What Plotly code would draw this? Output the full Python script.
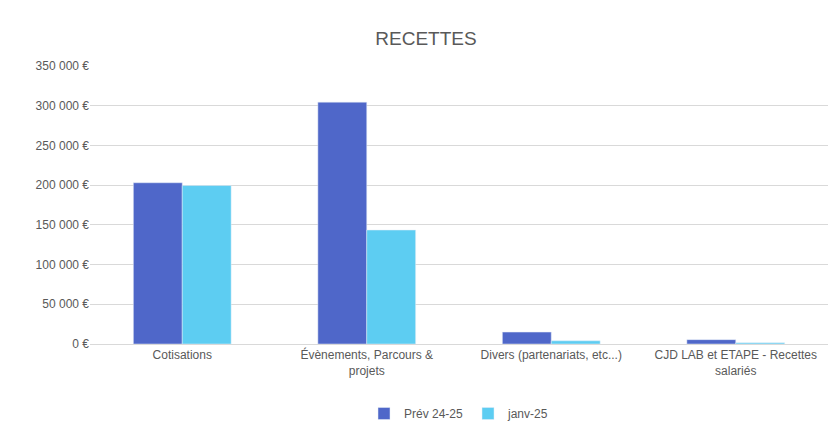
import plotly.graph_objects as go

categories = ["Cotisations", "Évènements, Parcours &<br>projets", "Divers (partenariats, etc...)", "CJD LAB et ETAPE - Recettes<br>salariés"]
prev = [203000, 304500, 15000, 5500]
janv = [199500, 143500, 4000, 1500]
yticks = [0, 50000, 100000, 150000, 200000, 250000, 300000, 350000]
yticklabels = ["0 €", "50 000 €", "100 000 €", "150 000 €", "200 000 €", "250 000 €", "300 000 €", "350 000 €"]

fig = go.Figure()
fig.add_bar(x=categories, y=prev, name="Prév 24-25", marker_color="#4F67C9")
fig.add_bar(x=categories, y=janv, name="janv-25", marker_color="#5DCDF2")
fig.update_layout(
    width=836, height=432, plot_bgcolor="white", paper_bgcolor="white",
    title=dict(text="RECETTES", x=0.5, xanchor="center", y=0.945, font=dict(size=19, color="#595959", family="Liberation Sans")),
    font=dict(family="Liberation Sans", size=12, color="#595959"),
    margin=dict(l=82, r=16, t=58, b=93),
    bargap=0.47, bargroupgap=0,
    legend=dict(orientation="h", x=0.5, xanchor="center", y=-0.25, yanchor="middle", font=dict(size=12)),
    yaxis=dict(range=[0, 350000], tickvals=yticks, ticktext=yticklabels, gridcolor="#D9D9D9", zeroline=False, showline=False, ticks=""),
    xaxis=dict(showline=True, linecolor="#D9D9D9", linewidth=1, ticks=""),
)
fig.write_html("out.html")
